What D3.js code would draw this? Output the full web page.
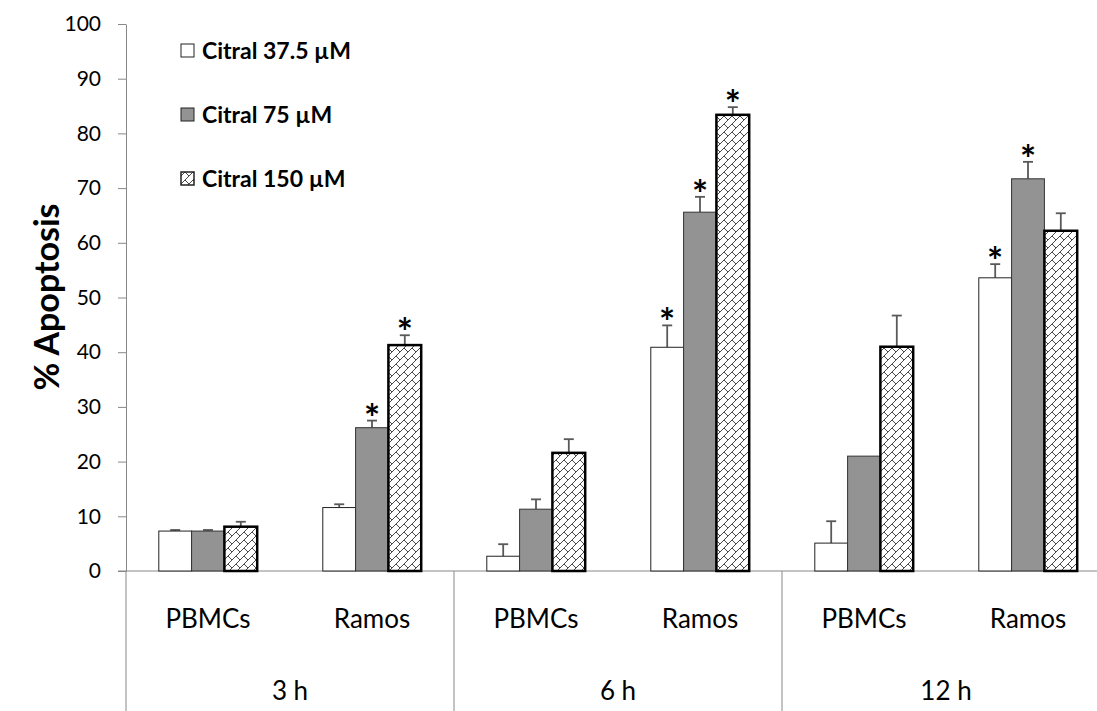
<!DOCTYPE html>
<html>
<head>
<meta charset="utf-8">
<script src="https://cdn.jsdelivr.net/npm/d3@7"></script>
<style>
  html, body { margin: 0; padding: 0; background: #fff; }
  svg { display: block; font-family: Lato, "Open Sans", sans-serif; }
</style>
</head>
<body>
<svg id="chart" width="1097" height="711"></svg>
<script>
// data
const groups = ["3 h", "6 h", "12 h"];
const cells = ["PBMCs", "Ramos"];
const series = ["Citral 37.5 µM", "Citral 75 µM", "Citral 150 µM"];
const yTicks = [0, 10, 20, 30, 40, 50, 60, 70, 80, 90, 100];

// order: 3h PBMCs, 3h Ramos, 6h PBMCs, 6h Ramos, 12h PBMCs, 12h Ramos
const citral375 = [7.3, 11.6, 2.7, 40.9, 5.1, 53.6];
const citral375Err = [0.2, 0.6, 2.2, 4.0, 4.0, 2.5];
const citral375Sig = [0, 0, 0, 1, 0, 1];

const citral75 = [7.3, 26.2, 11.3, 65.6, 21.0, 71.7];
const citral75Err = [0.2, 1.3, 1.8, 2.8, 0, 3.1];
const citral75Sig = [0, 1, 0, 1, 0, 1];

const citral150 = [8.1, 41.3, 21.6, 83.4, 41.0, 62.2];
const citral150Err = [0.9, 1.8, 2.5, 1.4, 5.7, 3.2];
const citral150Sig = [0, 1, 0, 1, 0, 0];

const values = [citral375, citral75, citral150];
const errors = [citral375Err, citral75Err, citral150Err];
const signif = [citral375Sig, citral75Sig, citral150Sig];

const slots = [];
groups.forEach(g => cells.forEach(c => slots.push(g + "|" + c)));

const svg = d3.select("#chart");
const axisColor = "#888";

// zigzag brick pattern for the 150 µM bars
const defs = svg.append("defs");
const pat = defs.append("pattern")
  .attr("id", "brick")
  .attr("patternUnits", "userSpaceOnUse")
  .attr("width", 8).attr("height", 8);
pat.append("rect").attr("width", 8).attr("height", 8).attr("fill", "#fff");
pat.append("path")
  .attr("d", "M-1,9 L9,-1 M4,4 L9,9")
  .attr("stroke", "#333").attr("stroke-width", 0.9).attr("fill", "none");

const fills = ["#fff", "#939393", "url(#brick)"];
const strokes = ["#222", "#333", "#000"];
const strokeW = [1, 1, 2.5];

const y = d3.scaleLinear().domain([0, 100]).range([571, 24]);

const x0 = d3.scaleBand()
  .domain(slots)
  .range([126, 1110])
  .paddingInner(0.4)
  .paddingOuter(0.2);

const x1 = d3.scaleBand()
  .domain(series)
  .range([0, x0.bandwidth()]);

const step = x0.step();

// Y axis
const yAxis = svg.append("g")
  .attr("transform", "translate(126,0)")
  .call(d3.axisLeft(y).tickValues(yTicks).tickSize(8).tickSizeOuter(0).tickPadding(17));
yAxis.select(".domain").attr("stroke", axisColor);
yAxis.selectAll(".tick line").attr("stroke", axisColor);
yAxis.selectAll(".tick text")
  .attr("fill", "#000")
  .style("font-size", "21px")
  .style("font-family", "Lato, sans-serif");

// baseline
svg.append("line")
  .attr("x1", 118).attr("x2", 1097)
  .attr("y1", y(0)).attr("y2", y(0))
  .attr("stroke", axisColor).attr("stroke-width", 1);

// group separators under the axis
const groupEdges = groups.map((g, i) => x0(slots[i * 2]) - step * 0.2);
svg.selectAll(".sep")
  .data(groupEdges)
  .enter().append("line")
    .attr("class", "sep")
    .attr("x1", d => d).attr("x2", d => d)
    .attr("y1", y(0)).attr("y2", 711)
    .attr("stroke", axisColor).attr("stroke-width", 1);

// category labels
svg.selectAll(".cell-label")
  .data(slots)
  .enter().append("text")
    .attr("class", "cell-label")
    .attr("x", d => x0(d) + x0.bandwidth() / 2)
    .attr("y", 628)
    .attr("text-anchor", "middle")
    .style("font-size", "26px")
    .text(d => d.split("|")[1]);

svg.selectAll(".group-label")
  .data(groups)
  .enter().append("text")
    .attr("class", "group-label")
    .attr("x", (d, i) => x0(slots[i * 2]) - step * 0.2 + step)
    .attr("y", 700)
    .attr("text-anchor", "middle")
    .style("font-size", "26px")
    .text(d => d);

// bars
series.forEach((s, si) => {
  const data = slots.map((slot, i) => ({
    slot, v: values[si][i], e: errors[si][i], sig: signif[si][i]
  }));
  const g = svg.append("g");

  // error bars (upper only)
  const eb = g.selectAll(".err").data(data.filter(d => d.e > 0)).enter();
  eb.append("line")
    .attr("x1", d => x0(d.slot) + x1(s) + x1.bandwidth() / 2)
    .attr("x2", d => x0(d.slot) + x1(s) + x1.bandwidth() / 2)
    .attr("y1", d => y(d.v))
    .attr("y2", d => y(d.v + d.e))
    .attr("stroke", "#595959").attr("stroke-width", 1.8);
  eb.append("line")
    .attr("x1", d => x0(d.slot) + x1(s) + x1.bandwidth() / 2 - 5)
    .attr("x2", d => x0(d.slot) + x1(s) + x1.bandwidth() / 2 + 5)
    .attr("y1", d => y(d.v + d.e))
    .attr("y2", d => y(d.v + d.e))
    .attr("stroke", "#595959").attr("stroke-width", 1.8);

  g.selectAll(".bar")
    .data(data)
    .enter().append("rect")
      .attr("class", "bar")
      .attr("x", d => x0(d.slot) + x1(s))
      .attr("y", d => y(d.v))
      .attr("width", x1.bandwidth())
      .attr("height", d => y(0) - y(d.v))
      .attr("fill", fills[si])
      .attr("stroke", strokes[si])
      .attr("stroke-width", strokeW[si]);

  // significance stars
  g.selectAll(".star")
    .data(data.filter(d => d.sig))
    .enter().append("text")
      .attr("class", "star")
      .attr("x", d => x0(d.slot) + x1(s) + x1.bandwidth() / 2)
      .attr("y", d => y(d.v + d.e) + 11)
      .attr("text-anchor", "middle")
      .style("font-size", "38px")
      .style("font-weight", "bold")
      .text("*");
});

// y title
svg.append("text")
  .attr("transform", "translate(59,297) rotate(-90)")
  .attr("text-anchor", "middle")
  .style("font-size", "34px")
  .style("font-weight", "bold")
  .text("% Apoptosis");

// legend
const legend = svg.append("g").attr("transform", "translate(181,0)");
const legendY = [51, 115, 179];
series.forEach((s, i) => {
  legend.append("rect")
    .attr("x", 0).attr("y", legendY[i] - 7)
    .attr("width", 13).attr("height", 13)
    .attr("fill", fills[i])
    .attr("stroke", "#222")
    .attr("stroke-width", i === 2 ? 1.5 : 1);
  legend.append("text")
    .attr("x", 21).attr("y", legendY[i] + 8)
    .style("font-size", "23px")
    .style("font-weight", "bold")
    .text(s);
});
</script>
</body>
</html>
